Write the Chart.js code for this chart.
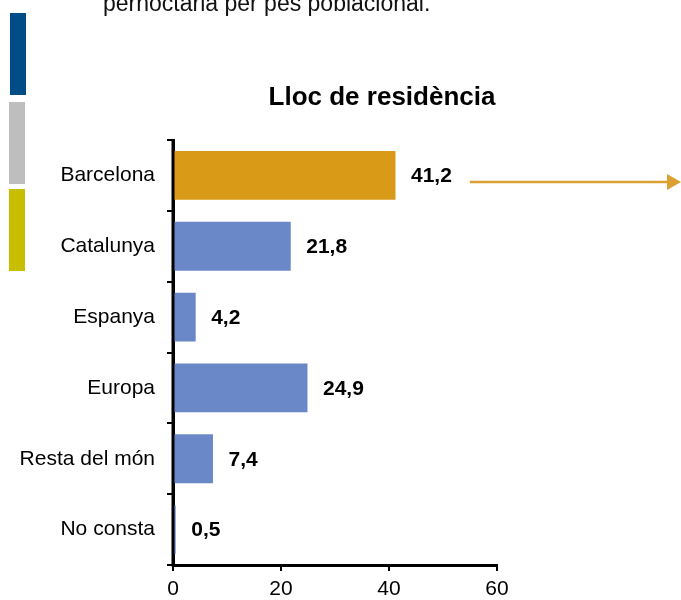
<!DOCTYPE html>
<html>
<head>
<meta charset="utf-8">
<script src="https://cdn.jsdelivr.net/npm/chart.js@4"></script>
<style>
html,body{margin:0;padding:0;background:#fff;overflow:hidden;}
canvas{display:block;}
</style>
</head>
<body>
<canvas id="c" width="681" height="600"></canvas>
<script>
const categories = ["Barcelona", "Catalunya", "Espanya", "Europa", "Resta del món", "No consta"];
const values = [41.2, 21.8, 4.2, 24.9, 7.4, 0.5];
const valueLabels = ["41,2", "21,8", "4,2", "24,9", "7,4", "0,5"];
const xTicks = [0, 20, 40, 60];
const titleText = "Lloc de residència";
const topText = "pernoctaria per pes poblacional.";

const FONT = "'Liberation Sans', Arial, sans-serif";
const barColors = categories.map((c, i) => i === 0 ? "#D99A18" : "#6A88C8");

const decor = {
  id: "decor",
  beforeDraw(chart) {
    const ctx = chart.ctx;
    ctx.save();
    ctx.fillStyle = "#fff";
    ctx.fillRect(0, 0, chart.width, chart.height);
    // side colour strips
    ctx.fillStyle = "#004C87"; ctx.fillRect(10, 13, 16, 82);
    ctx.fillStyle = "#BEBEBE"; ctx.fillRect(9, 102, 16, 82);
    ctx.fillStyle = "#C8BE00"; ctx.fillRect(9, 189, 16, 82);
    // top cut text
    ctx.fillStyle = "#111";
    ctx.font = "23px " + FONT;
    ctx.textAlign = "left";
    ctx.textBaseline = "alphabetic";
    ctx.fillText(topText, 103, 11);
    // title
    ctx.font = "bold 26px " + FONT;
    ctx.textAlign = "center";
    ctx.fillStyle = "#000";
    ctx.fillText(titleText, 382, 105);
    ctx.restore();
  },
  afterDatasetsDraw(chart) {
    const ctx = chart.ctx;
    const area = chart.chartArea;
    const meta = chart.getDatasetMeta(0);
    ctx.save();
    // redraw the value axis line above the bars
    ctx.strokeStyle = "#000";
    ctx.lineWidth = 3;
    ctx.beginPath();
    ctx.moveTo(area.left, area.top);
    ctx.lineTo(area.left, area.bottom + 1.5);
    ctx.stroke();
    ctx.font = "bold 21px " + FONT;
    ctx.fillStyle = "#000";
    ctx.textAlign = "left";
    ctx.textBaseline = "middle";
    meta.data.forEach((bar, i) => {
      ctx.fillText(valueLabels[i], bar.x + 15.5, bar.y + 1);
    });
    // arrow from Barcelona label
    const b = meta.data[0];
    const w = ctx.measureText(valueLabels[0]).width;
    const x0 = b.x + 15.5 + w + 18;
    const y0 = b.y + 6.5;
    const xEnd = 681;
    ctx.strokeStyle = "#DBA032";
    ctx.fillStyle = "#DBA032";
    ctx.lineWidth = 2.5;
    ctx.beginPath();
    ctx.moveTo(x0, y0);
    ctx.lineTo(xEnd - 12, y0);
    ctx.stroke();
    ctx.beginPath();
    ctx.moveTo(xEnd - 14, y0 - 8);
    ctx.lineTo(xEnd, y0);
    ctx.lineTo(xEnd - 14, y0 + 8);
    ctx.closePath();
    ctx.fill();
    ctx.restore();
  }
};

new Chart(document.getElementById("c"), {
  type: "bar",
  data: {
    labels: categories,
    datasets: [{
      data: values,
      backgroundColor: barColors,
      borderWidth: 0,
      barPercentage: 0.69,
      categoryPercentage: 1
    }]
  },
  options: {
    indexAxis: "y",
    responsive: false,
    animation: false,
    devicePixelRatio: 1,
    layout: { padding: { left: 0, top: 140, right: 184, bottom: 0 } },
    plugins: { legend: { display: false }, title: { display: false }, tooltip: { enabled: false } },
    scales: {
      x: {
        min: 0, max: 60,
        afterFit: s => { s.height = 35; },
        afterBuildTicks: s => { s.ticks = xTicks.map(v => ({ value: v })); },
        grid: { drawOnChartArea: false, drawTicks: true, tickLength: 6, color: "#000", lineWidth: 2 },
        border: { display: true, color: "#000", width: 3 },
        ticks: { color: "#000", font: { family: FONT, size: 21 }, padding: 6, maxRotation: 0 }
      },
      y: {
        afterFit: s => { s.width = 173; },
        grid: { drawOnChartArea: false, drawTicks: true, tickLength: 6, color: "#000", lineWidth: 2, offset: true },
        border: { display: true, color: "#000", width: 3 },
        ticks: { color: "#000", font: { family: FONT, size: 21 }, padding: 12 }
      }
    }
  },
  plugins: [decor]
});
</script>
</body>
</html>
